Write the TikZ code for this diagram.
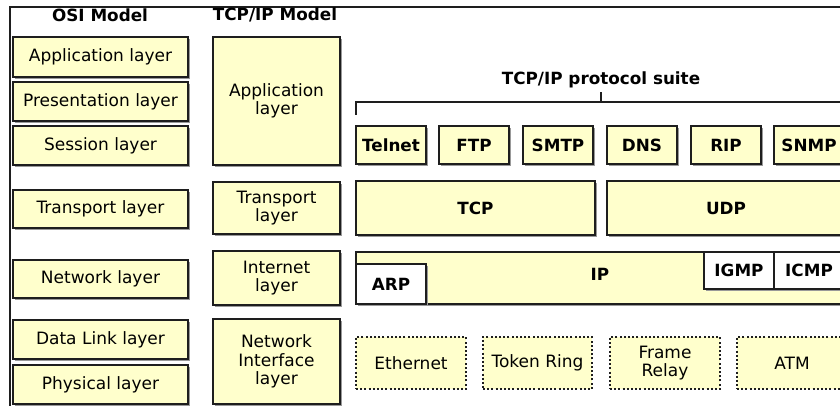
\documentclass[tikz,border=0pt]{standalone}
\usepackage{fontspec}
\setmainfont{DejaVu Sans}
\usetikzlibrary{shadows}

\definecolor{paleyellow}{HTML}{FFFFCC}
\definecolor{edgeink}{HTML}{1E1E1E}
\definecolor{shadegray}{HTML}{999999}

\newcommand\regfont{\fontsize{17}{18.5}\selectfont}
\newcommand\boldfont{\fontsize{16.8}{18.5}\selectfont\bfseries}

\tikzset{
  layerbox/.style={draw=edgeink, line width=1.1pt, fill=paleyellow,
    inner sep=0pt, align=center, font=\regfont,
    drop shadow={shadow xshift=2pt, shadow yshift=-2pt, fill=shadegray, opacity=1}},
  protobox/.style={layerbox, font=\boldfont},
  whitebox/.style={protobox, fill=white},
  linkbox/.style={draw=edgeink, line width=1.1pt, dash pattern=on 2pt off 2.2pt,
    fill=paleyellow, inner sep=0pt, align=center, font=\regfont},
  heading/.style={font=\boldfont, inner sep=0pt},
  bracket/.style={draw=edgeink, line width=1.1pt},
}

\begin{document}
\begin{tikzpicture}[x=1pt, y=-1pt]
  \useasboundingbox (0,0) rectangle (840,406);
  \fill[white] (0,0) rectangle (840,406);
  \clip (0,0) rectangle (840,406);

  % outer frame (open at the bottom and right)
  \draw[edgeink, line width=1.4pt] (10,420) -- (10,7) -- (860,7);

  % column headings
  \node[heading] (osiTitle) at (100,15) {OSI Model};
  \node[heading] (tcpTitle) at (275,15) {TCP/IP Model};

  % OSI model layers
  \node[layerbox, minimum width=175pt, minimum height=40pt] (osiApp)   at (100.5,57)    {Application layer};
  \node[layerbox, minimum width=175pt, minimum height=39pt] (osiPres)  at (100.5,101.5) {Presentation layer};
  \node[layerbox, minimum width=175pt, minimum height=39pt] (osiSess)  at (100.5,145.5) {Session layer};
  \node[layerbox, minimum width=175pt, minimum height=38pt] (osiTrans) at (100.5,209)   {Transport layer};
  \node[layerbox, minimum width=175pt, minimum height=38pt] (osiNet)   at (100.5,279)   {Network layer};
  \node[layerbox, minimum width=175pt, minimum height=39pt] (osiLink)  at (100.5,339.5) {Data Link layer};
  \node[layerbox, minimum width=175pt, minimum height=39pt] (osiPhys)  at (100.5,384.5) {Physical layer};

  % TCP/IP model layers
  \node[layerbox, minimum width=127pt, minimum height=128pt] (tcpApp)   at (276.5,101)   {Application\\layer};
  \node[layerbox, minimum width=127pt, minimum height=52pt]  (tcpTrans) at (276.5,208)   {Transport\\layer};
  \node[layerbox, minimum width=127pt, minimum height=54pt]  (tcpInet)  at (276.5,278)   {Internet\\layer};
  \node[layerbox, minimum width=127pt, minimum height=85pt]  (tcpNif)   at (276.5,361.5) {Network\\Interface\\layer};

  % protocol suite heading and bracket
  \node[heading] (suiteTitle) at (601,80) {TCP/IP protocol suite};
  \coordinate (brLeftFoot) at (356,115);
  \coordinate (brLeft)     at (356,102);
  \coordinate (brMid)      at (601,102);
  \coordinate (brRight)    at (860,102);
  \draw[bracket] (brLeftFoot) -- (brLeft) -- (brRight);
  \draw[bracket] (brMid) -- (suiteTitle.south |- 0,92);

  % application protocols
  \node[protobox, minimum width=70pt, minimum height=38pt] (telnet) at (391,145) {Telnet};
  \node[protobox, minimum width=70pt, minimum height=38pt] (ftp)    at (474,145) {FTP};
  \node[protobox, minimum width=70pt, minimum height=38pt] (smtp)   at (558,145) {SMTP};
  \node[protobox, minimum width=70pt, minimum height=38pt] (dns)    at (642,145) {DNS};
  \node[protobox, minimum width=70pt, minimum height=38pt] (rip)    at (726,145) {RIP};
  \node[protobox, minimum width=70pt, minimum height=38pt] (snmp)   at (809,145) {SNMP};

  % transport protocols
  \node[protobox, minimum width=239pt, minimum height=54pt] (tcp) at (475.5,208) {TCP};
  \node[protobox, minimum width=238pt, minimum height=54pt] (udp) at (726,208)   {UDP};

  % internet protocols
  \node[protobox, minimum width=489pt, minimum height=52pt] (ip) at (600.5,278) {};
  \node[heading] (ipLabel) at (600,274) {IP};
  \node[whitebox, minimum width=70pt, minimum height=40pt] (arp)  at (391,284)   {ARP};
  \node[whitebox, minimum width=70pt, minimum height=37pt] (igmp) at (739,270.5) {IGMP};
  \node[whitebox, minimum width=70pt, minimum height=37pt] (icmp) at (809,270.5) {ICMP};

  % network interface technologies
  \node[linkbox, minimum width=110pt, minimum height=52pt] (ethernet)   at (411,363)   {Ethernet};
  \node[linkbox, minimum width=109pt, minimum height=52pt] (tokenring)  at (537.5,363) {Token Ring};
  \node[linkbox, minimum width=110pt, minimum height=52pt] (framerelay) at (665,363)   {Frame\\Relay};
  \node[linkbox, minimum width=110pt, minimum height=52pt] (atm)        at (792,363)   {ATM};
\end{tikzpicture}
\end{document}
